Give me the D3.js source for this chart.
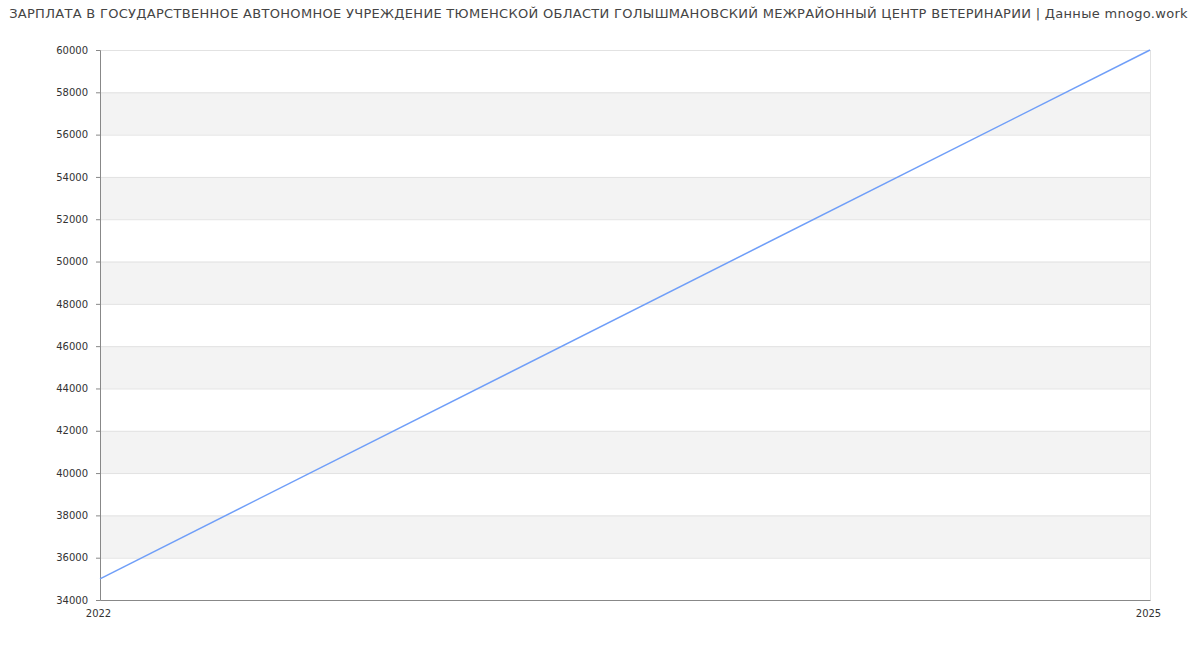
<!DOCTYPE html>
<html>
<head>
<meta charset="utf-8">
<script src="https://cdn.jsdelivr.net/npm/d3@7"></script>
<style>
  body { margin: 0; background: #fff; }
  svg text { font-family: "DejaVu Sans", sans-serif; }
</style>
</head>
<body>
<svg id="chart" width="1200" height="650"></svg>
<script>
const title = 'ЗАРПЛАТА В ГОСУДАРСТВЕННОЕ АВТОНОМНОЕ УЧРЕЖДЕНИЕ ТЮМЕНСКОЙ ОБЛАСТИ ГОЛЫШМАНОВСКИЙ МЕЖРАЙОННЫЙ ЦЕНТР ВЕТЕРИНАРИИ | Данные mnogo.work';
const years = [2022, 2025];
const salary = [35000, 60000];
const yTicks = d3.range(34000, 60001, 2000);

const margin = { top: 50, right: 50, bottom: 50, left: 100 };
const svg = d3.select('#chart'),
      width = 1200 - margin.left - margin.right,
      height = 650 - margin.top - margin.bottom;

svg.append('text')
  .attr('x', 598.5)
  .attr('y', 18)
  .attr('text-anchor', 'middle')
  .attr('font-size', 13)
  .attr('letter-spacing', 0.3)
  .attr('fill', '#444')
  .text(title);

const g = svg.append('g').attr('transform', `translate(${margin.left},${margin.top})`);

const x = d3.scaleLinear().domain([years[0], years[years.length - 1]]).range([0, width]);
const y = d3.scaleLinear().domain([34000, 60000]).range([height, 0]);

// alternating bands, every other 2000 step is grey
g.selectAll('.band')
  .data(yTicks.slice(0, -1))
  .enter().append('rect')
    .attr('class', 'band')
    .attr('x', 0)
    .attr('width', width)
    .attr('y', d => y(d + 2000))
    .attr('height', d => y(d) - y(d + 2000))
    .attr('fill', d => ((d - 34000) / 2000) % 2 === 1 ? '#f3f3f3' : '#fff');

// grid lines
g.selectAll('.grid')
  .data(yTicks.slice(1))
  .enter().append('line')
    .attr('x1', 0).attr('x2', width)
    .attr('y1', d => y(d) + 0.5).attr('y2', d => y(d) + 0.5)
    .attr('stroke', '#e2e2e2');

g.append('line')
  .attr('x1', width + 0.5).attr('x2', width + 0.5)
  .attr('y1', 0).attr('y2', height)
  .attr('stroke', '#e2e2e2');

// y axis
const yAxis = g.append('g')
  .call(d3.axisLeft(y).tickValues(yTicks).tickFormat(d3.format('d')).tickSize(4).tickPadding(8));
yAxis.select('.domain').attr('stroke', '#888');
yAxis.selectAll('.tick line').attr('stroke', '#888');
yAxis.selectAll('text').attr('font-size', 10).attr('fill', '#333').attr('font-family', '"DejaVu Sans", sans-serif');

// x axis
const xAxis = g.append('g')
  .attr('transform', `translate(0,${height})`)
  .call(d3.axisBottom(x).tickValues(years).tickFormat(d3.format('d')).tickSize(0).tickPadding(10));
xAxis.select('.domain').attr('stroke', '#888');
xAxis.selectAll('text').attr('font-size', 10).attr('fill', '#333').attr('font-family', '"DejaVu Sans", sans-serif')
  .attr('dx', -2);

// line
const line = d3.line()
  .x((d, i) => x(years[i]))
  .y(d => y(d));

g.append('path')
  .datum(salary)
  .attr('d', line)
  .attr('fill', 'none')
  .attr('stroke', '#6f9ef8')
  .attr('stroke-width', 1.5);
</script>
</body>
</html>
